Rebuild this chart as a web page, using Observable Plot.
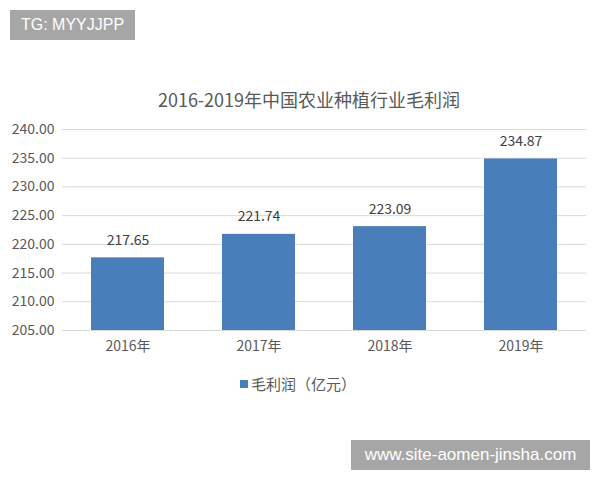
<!DOCTYPE html>
<html>
<head>
<meta charset="utf-8">
<script src="https://cdn.jsdelivr.net/npm/d3@7"></script>
<script src="https://cdn.jsdelivr.net/npm/@observablehq/plot@0.6"></script>
<style>
  body { margin: 0; background: #fff; }
  #wrap { position: relative; width: 600px; height: 480px; overflow: hidden; font-family: "Noto Sans CJK SC", "Noto Sans", sans-serif; }
  #chart { position: absolute; left: 0; top: 0; }
  .title { position: absolute; left: 0; width: 618px; top: 86px; text-align: center; font-size: 18px; color: #595959; }
  .legend { position: absolute; left: 240px; top: 373px; font-size: 15px; color: #595959; display: flex; align-items: center; }
  .legend .sw { width: 8px; height: 8px; background: #4a7ebb; margin-right: 3px; }
  .wm { position: absolute; background: #a6a6a6; color: #fff; font-family: "Liberation Sans", "DejaVu Sans", sans-serif; display: flex; align-items: center; justify-content: center; }
</style>
</head>
<body>
<div id="wrap">
  <div id="chart"></div>
  <div class="title">2016-2019年中国农业种植行业毛利润</div>
  <div class="legend"><span class="sw"></span><span>毛利润（亿元）</span></div>
  <div class="wm" style="left:10px;top:10px;width:125px;height:30px;font-size:16px;">TG: MYYJJPP</div>
  <div class="wm" style="left:351px;top:440px;width:239px;height:30px;font-size:17px;">www.site-aomen-jinsha.com</div>
</div>
<script>
const years = ["2016年", "2017年", "2018年", "2019年"];
const profits = [217.65, 221.74, 223.09, 234.87];
const yTicks = [205, 210, 215, 220, 225, 230, 235, 240];
const data = years.map((y, i) => ({year: y, value: profits[i]}));

const chart = Plot.plot({
  width: 600,
  height: 480,
  marginTop: 129,
  marginBottom: 150,
  marginLeft: 62,
  marginRight: 14,
  style: {fontFamily: '"Noto Sans CJK SC", "Noto Sans", sans-serif', fontSize: "14px", color: "#595959", background: "transparent"},
  x: {domain: years, paddingInner: 0.44, paddingOuter: 0.22, label: null, tickSize: 0, tickPadding: 11},
  y: {domain: [205, 240], ticks: yTicks, tickFormat: d => d.toFixed(2), label: null, tickSize: 0, tickPadding: 8},
  marks: [
    Plot.gridY(yTicks, {stroke: "#d9d9d9", strokeOpacity: 1, strokeWidth: 1}),
    Plot.barY(data, {x: "year", y1: 205, y2: "value", fill: "#4a7ebb"}),
    Plot.text(data, {x: "year", y: "value", text: d => d.value.toFixed(2), dy: -13, lineAnchor: "bottom", fill: "#404040", fontSize: 14})
  ]
});
document.getElementById("chart").appendChild(chart);
</script>
</body>
</html>
